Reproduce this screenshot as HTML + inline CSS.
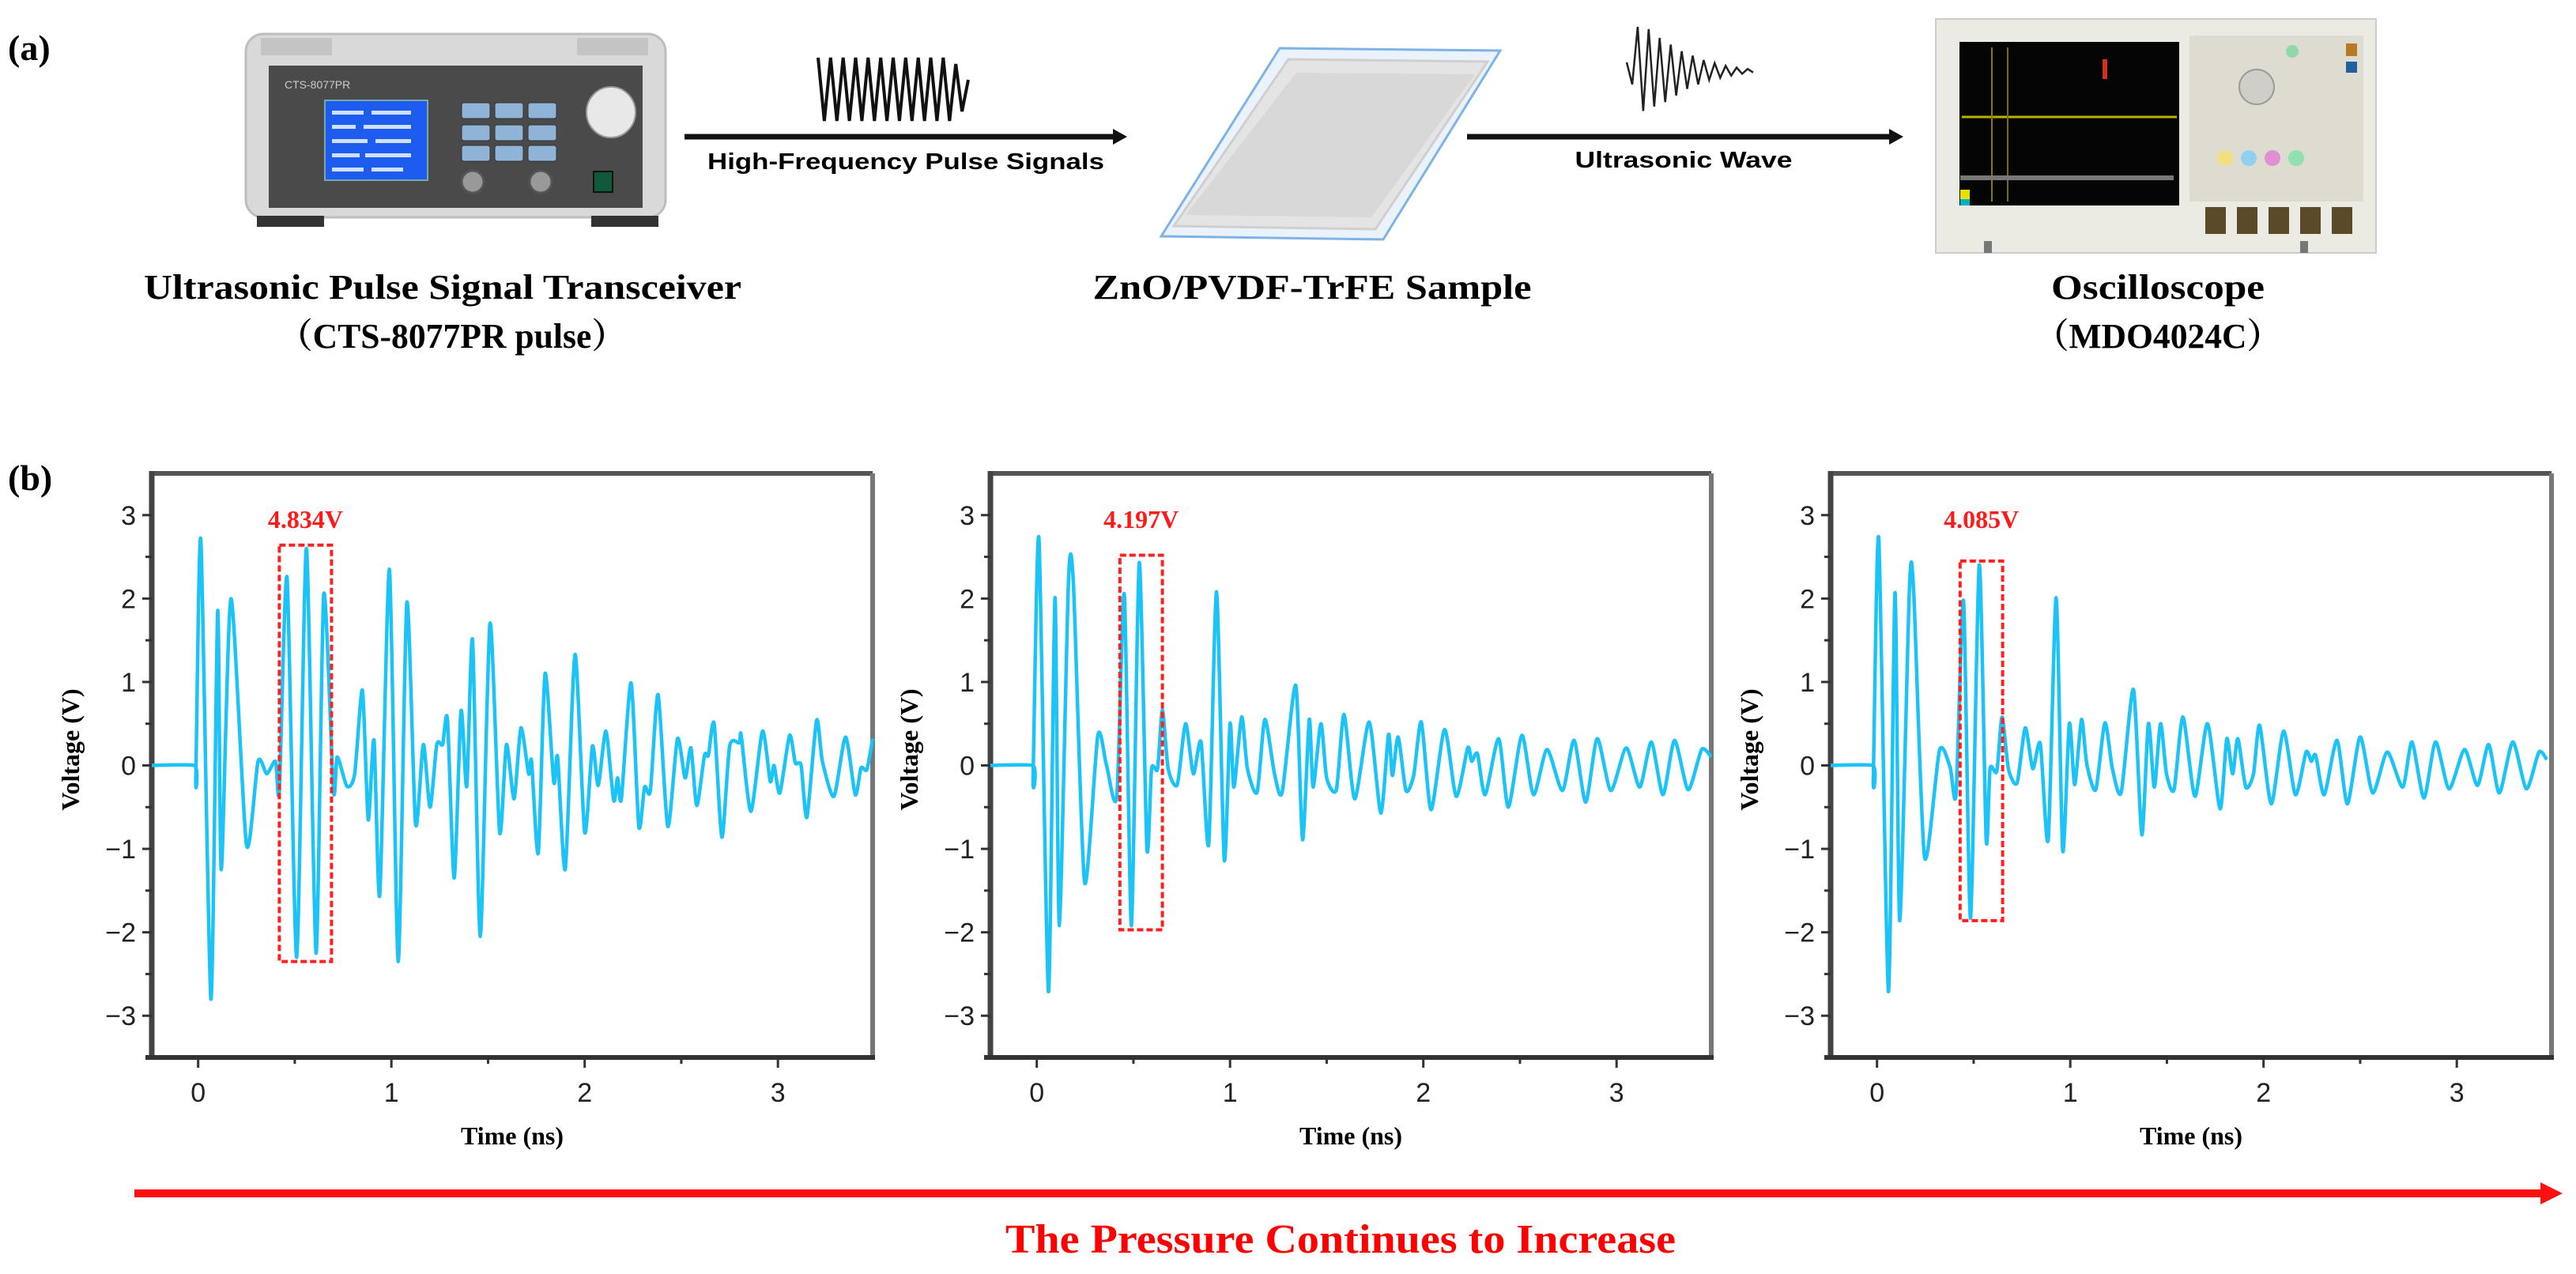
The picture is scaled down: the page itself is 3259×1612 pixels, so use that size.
<!DOCTYPE html>
<html><head><meta charset="utf-8">
<style>
html,body{margin:0;padding:0;background:#fff;}
svg{display:block;}
.serif{font-family:"Liberation Serif",serif;font-weight:bold;}
.sans{font-family:"Liberation Sans",sans-serif;}
</style></head>
<body>
<svg id="fig" width="3259" height="1612" viewBox="0 0 3259 1612" xmlns="http://www.w3.org/2000/svg">
  <text x="10" y="76" class="serif" font-size="46">(a)</text>

  <g>
    <rect x="311" y="43" width="531" height="232" rx="22" fill="#d9d9d9" stroke="#bdbdbd" stroke-width="3"/>
    <rect x="330" y="48" width="90" height="22" fill="#c4c4c4"/>
    <rect x="730" y="48" width="90" height="22" fill="#c4c4c4"/>
    <rect x="340" y="83" width="473" height="180" fill="#4a4a4a"/>
    <text x="360" y="112" font-size="14" fill="#ccc" class="sans">CTS-8077PR</text>
    <rect x="411" y="127" width="130" height="101" fill="#1e5cf0" stroke="#7aa" stroke-width="2"/>
    <g fill="#cfe0ff">
      <rect x="420" y="140" width="40" height="5"/><rect x="470" y="140" width="50" height="5"/>
      <rect x="420" y="158" width="30" height="5"/><rect x="460" y="158" width="60" height="5"/>
      <rect x="420" y="176" width="45" height="5"/><rect x="475" y="176" width="45" height="5"/>
      <rect x="420" y="194" width="35" height="5"/><rect x="462" y="194" width="58" height="5"/>
      <rect x="420" y="212" width="40" height="5"/><rect x="470" y="212" width="40" height="5"/>
    </g>
    <g fill="#8fb4d8" stroke="#333" stroke-width="1">
      <rect x="584" y="130" width="36" height="20" rx="3"/><rect x="626" y="130" width="36" height="20" rx="3"/><rect x="668" y="130" width="36" height="20" rx="3"/>
      <rect x="584" y="158" width="36" height="20" rx="3"/><rect x="626" y="158" width="36" height="20" rx="3"/><rect x="668" y="158" width="36" height="20" rx="3"/>
      <rect x="584" y="184" width="36" height="20" rx="3"/><rect x="626" y="184" width="36" height="20" rx="3"/><rect x="668" y="184" width="36" height="20" rx="3"/>
    </g>
    <ellipse cx="773" cy="142" rx="31" ry="32" fill="#e8e8e8" stroke="#999" stroke-width="2"/>
    <circle cx="598" cy="230" r="14" fill="#999" stroke="#555" stroke-width="3"/>
    <circle cx="684" cy="230" r="14" fill="#999" stroke="#555" stroke-width="3"/>
    <rect x="751" y="217" width="24" height="26" fill="#0e5a3a" stroke="#111" stroke-width="2"/>
    <rect x="325" y="273" width="85" height="14" fill="#333"/>
    <rect x="748" y="273" width="85" height="14" fill="#333"/>
  </g>

  <g>
    <line x1="866" y1="173" x2="1412" y2="173" stroke="#111" stroke-width="7"/>
    <polygon points="1426,173 1408,163 1408,183" fill="#111"/>
  </g>
  <text x="1146" y="214" text-anchor="middle" class="sans" font-weight="bold" font-size="29" textLength="502" lengthAdjust="spacingAndGlyphs">High-Frequency Pulse Signals</text>
  <polyline id="burst1" fill="none" stroke="#111" stroke-width="4"/>

  <g>
    <polygon points="1619,61 1898,64 1750,303 1469,299" fill="#eaf2fb" stroke="#7fb2e6" stroke-width="3"/>
    <polygon points="1630,75 1882,78 1740,290 1485,286" fill="#e4e4e4" stroke="#cfcfcf" stroke-width="3"/>
    <polygon points="1640,92 1866,94 1735,275 1500,272" fill="#d8d8d8"/>
  </g>

  <g>
    <line x1="1856" y1="173" x2="2394" y2="173" stroke="#111" stroke-width="7"/>
    <polygon points="2408,173 2390,163 2390,183" fill="#111"/>
  </g>
  <text x="2130" y="212" text-anchor="middle" class="sans" font-weight="bold" font-size="29" textLength="275" lengthAdjust="spacingAndGlyphs">Ultrasonic Wave</text>
  <polyline id="burst2" fill="none" stroke="#222" stroke-width="2.5"/>

  <g>
    <rect x="2449" y="24" width="557" height="296" fill="#ecebe3" stroke="#ccc" stroke-width="2"/>
    <rect x="2479" y="53" width="278" height="207" fill="#050505"/>
    <line x1="2482" y1="148" x2="2754" y2="148" stroke="#b8b400" stroke-width="3"/>
    <line x1="2520" y1="60" x2="2520" y2="255" stroke="#8a7a00" stroke-width="2"/>
    <line x1="2540" y1="60" x2="2540" y2="255" stroke="#7a6a00" stroke-width="2"/>
    <rect x="2660" y="75" width="6" height="25" fill="#d03020"/>
    <rect x="2480" y="222" width="270" height="6" fill="#777"/>
    <rect x="2480" y="240" width="12" height="12" fill="#e8e000"/>
    <rect x="2480" y="252" width="12" height="8" fill="#00b0c0"/>
    <rect x="2770" y="45" width="220" height="210" fill="#dedbd0"/>
    <circle cx="2855" cy="110" r="22" fill="#cfcfc7" stroke="#999" stroke-width="2"/>
    <circle cx="2900" cy="65" r="8" fill="#8fd8a8"/>
    <rect x="2968" y="55" width="14" height="16" fill="#b87a20"/>
    <rect x="2968" y="78" width="14" height="14" fill="#2060a0"/>
    <circle cx="2815" cy="200" r="10" fill="#f0e080"/>
    <circle cx="2845" cy="200" r="10" fill="#90d0f0"/>
    <circle cx="2875" cy="200" r="10" fill="#e090d0"/>
    <circle cx="2905" cy="200" r="10" fill="#90e0b0"/>
    <g fill="#5a4a2a">
      <rect x="2790" y="262" width="26" height="34"/><rect x="2830" y="262" width="26" height="34"/>
      <rect x="2870" y="262" width="26" height="34"/><rect x="2910" y="262" width="26" height="34"/>
      <rect x="2950" y="262" width="26" height="34"/>
    </g>
    <rect x="2510" y="305" width="10" height="15" fill="#777"/>
    <rect x="2910" y="305" width="10" height="15" fill="#777"/>
  </g>

  <text x="560" y="378" text-anchor="middle" class="serif" font-size="44" textLength="756" lengthAdjust="spacingAndGlyphs">Ultrasonic Pulse Signal Transceiver</text>
  <text x="572" y="440" text-anchor="middle" font-family="'Liberation Serif','Noto Serif CJK SC',serif" font-weight="bold" font-size="44" textLength="440" lengthAdjust="spacingAndGlyphs">（CTS-8077PR pulse）</text>
  <text x="1660" y="378" text-anchor="middle" class="serif" font-size="44" textLength="555" lengthAdjust="spacingAndGlyphs">ZnO/PVDF-TrFE Sample</text>
  <text x="2730" y="378" text-anchor="middle" class="serif" font-size="44" textLength="270" lengthAdjust="spacingAndGlyphs">Oscilloscope</text>
  <text x="2730" y="440" text-anchor="middle" font-family="'Liberation Serif','Noto Serif CJK SC',serif" font-weight="bold" font-size="44" textLength="312" lengthAdjust="spacingAndGlyphs">（MDO4024C）</text>

  <text x="10" y="620" class="serif" font-size="46">(b)</text>
  <g id="charts"></g>

  <g>
    <line x1="170" y1="1510" x2="3218" y2="1510" stroke="#ff1010" stroke-width="10"/>
    <polygon points="3242,1510 3214,1496 3214,1524" fill="#ff1010"/>
  </g>
  <text x="1696" y="1585" text-anchor="middle" class="serif" font-size="52" fill="#ff0000" textLength="848" lengthAdjust="spacingAndGlyphs">The Pressure Continues to Increase</text>
</svg>

<script>
const xTicks = [0, 1, 2, 3];
const xTickLabels = ["0", "1", "2", "3"];
const yTicks = [-3, -2, -1, 0, 1, 2, 3];
const yTickLabels = ["\u22123", "\u22122", "\u22121", "0", "1", "2", "3"];
const peakLabels = ["4.834V", "4.197V", "4.085V"];
const boxX0 = [0.42, 0.43, 0.43];
const boxX1 = [0.69, 0.65, 0.65];
const boxYTop = [2.64, 2.52, 2.45];
const boxYBot = [-2.35, -1.97, -1.86];

const t1 = [-0.24,-0.02,-0.012,0.014,0.066,0.101,0.12,0.17,0.25,0.31,0.355,0.40,0.42,0.46,0.51,0.56,0.61,0.65,0.70,0.72,0.77,0.81,0.85,0.88,0.91,0.94,0.99,1.035,1.08,1.125,1.165,1.20,1.235,1.265,1.29,1.325,1.36,1.39,1.42,1.46,1.51,1.56,1.595,1.635,1.67,1.71,1.725,1.76,1.795,1.84,1.86,1.90,1.95,2.00,2.04,2.07,2.11,2.15,2.17,2.19,2.24,2.28,2.31,2.34,2.38,2.43,2.48,2.52,2.55,2.58,2.62,2.64,2.67,2.71,2.75,2.80,2.81,2.86,2.92,2.96,2.98,3.01,3.06,3.09,3.12,3.15,3.20,3.23,3.29,3.35,3.40,3.43,3.46,3.49];
const v1 = [0,0,-0.15,2.7,-2.8,1.85,-1.25,2.0,-0.95,0.05,-0.1,0.05,-0.3,2.25,-2.3,2.6,-2.25,2.05,-0.3,0.1,-0.25,-0.1,0.9,-0.65,0.3,-1.55,2.35,-2.35,1.95,-0.7,0.25,-0.5,0.25,0.25,0.55,-1.35,0.65,-0.25,1.5,-2.05,1.7,-0.8,0.25,-0.4,0.45,-0.1,0.05,-1.05,1.1,-0.2,0.1,-1.24,1.33,-0.8,0.23,-0.24,0.41,-0.42,-0.15,-0.4,0.99,-0.73,-0.26,-0.3,0.85,-0.73,0.32,-0.15,0.21,-0.48,0.12,0.12,0.5,-0.86,0.23,0.27,0.36,-0.55,0.41,-0.19,0.0,-0.33,0.36,0.03,0.0,-0.62,0.54,0.05,-0.37,0.34,-0.35,-0.03,-0.05,0.32];

const t2 = [-0.24,-0.02,-0.019,0.011,0.06,0.094,0.117,0.164,0.19,0.247,0.316,0.36,0.414,0.453,0.49,0.53,0.57,0.594,0.625,0.65,0.68,0.727,0.77,0.81,0.85,0.89,0.93,0.97,1.0,1.02,1.06,1.09,1.14,1.18,1.23,1.27,1.34,1.375,1.41,1.43,1.47,1.50,1.55,1.59,1.645,1.72,1.78,1.82,1.84,1.87,1.91,1.95,1.99,2.04,2.11,2.17,2.23,2.25,2.28,2.32,2.39,2.44,2.51,2.57,2.64,2.72,2.78,2.84,2.90,2.97,3.05,3.12,3.18,3.24,3.30,3.37,3.44,3.49];
const v2 = [0,0,-0.15,2.72,-2.71,2.01,-1.92,2.21,2.16,-1.40,0.36,0.01,-0.37,2.05,-1.92,2.43,-0.99,-0.04,-0.04,0.66,-0.04,-0.23,0.5,-0.1,0.28,-0.94,2.08,-1.13,0.5,-0.26,0.58,-0.04,-0.32,0.55,-0.1,-0.32,0.96,-0.89,0.55,-0.26,0.5,-0.15,-0.29,0.61,-0.4,0.52,-0.57,0.37,-0.12,0.34,-0.30,-0.12,0.52,-0.53,0.43,-0.37,0.21,0.05,0.14,-0.35,0.32,-0.50,0.36,-0.35,0.19,-0.30,0.30,-0.44,0.32,-0.30,0.21,-0.26,0.28,-0.35,0.30,-0.29,0.19,0.10];

const t3 = [-0.24,-0.022,-0.019,0.009,0.059,0.093,0.118,0.168,0.19,0.246,0.323,0.378,0.409,0.448,0.484,0.529,0.565,0.585,0.62,0.647,0.68,0.725,0.767,0.806,0.845,0.886,0.927,0.961,0.995,1.023,1.058,1.086,1.132,1.179,1.218,1.264,1.327,1.37,1.404,1.435,1.467,1.498,1.537,1.583,1.645,1.71,1.775,1.81,1.84,1.867,1.908,1.948,1.98,2.04,2.104,2.165,2.22,2.247,2.27,2.314,2.38,2.434,2.50,2.565,2.64,2.72,2.768,2.83,2.89,2.96,3.04,3.107,3.165,3.22,3.29,3.36,3.425,3.466];
const v3 = [0,0,-0.15,2.72,-2.71,2.07,-1.86,2.14,2.08,-1.10,0.18,-0.02,-0.34,1.97,-1.83,2.40,-0.89,-0.04,-0.07,0.58,-0.04,-0.21,0.45,-0.04,0.26,-0.89,2.01,-1.02,0.5,-0.23,0.55,0.01,-0.29,0.51,-0.04,-0.32,0.91,-0.83,0.5,-0.26,0.5,-0.1,-0.29,0.58,-0.37,0.50,-0.52,0.32,-0.10,0.32,-0.26,-0.10,0.48,-0.46,0.41,-0.35,0.16,0.05,0.12,-0.35,0.30,-0.46,0.34,-0.33,0.16,-0.26,0.28,-0.39,0.28,-0.28,0.19,-0.24,0.25,-0.33,0.28,-0.28,0.16,0.07];

const seriesT = [t1, t2, t3];
const seriesV = [v1, v2, v3];

const burst1Amp = [1,-1,1,-1,1,-1,1,-1,1,-1,1,-1,1,-1,1,-1,1,-1,1,-1,1,-1,0.8,-0.7,0.3];
const burst2Amp = [0.2,-0.3,1,-0.9,0.95,-0.8,0.75,-0.7,0.6,-0.55,0.45,-0.4,0.35,-0.3,0.25,-0.2,0.18,-0.15,0.12,-0.1,0.08,-0.06,0.05,-0.03];

const NS = "http://www.w3.org/2000/svg";
const plotLefts = [192, 1253, 2316];
const plotW = 912, plotTop = 599, plotBot = 1338;
const xMin = -0.24, xMax = 3.49, yMin = -3.5, yMax = 3.5;

function mk(tag, attrs, parent) {
  const el = document.createElementNS(NS, tag);
  for (const k in attrs) el.setAttribute(k, attrs[k]);
  parent.appendChild(el);
  return el;
}

function smoothPath(P) {
  let d = "M" + P[0][0].toFixed(1) + "," + P[0][1].toFixed(1);
  for (let i = 0; i < P.length - 1; i++) {
    const p0 = P[Math.max(0, i - 1)], p1 = P[i], p2 = P[i + 1], p3 = P[Math.min(P.length - 1, i + 2)];
    const k = 0.12;
    const c1 = [p1[0] + (p2[0] - p0[0]) * k, p1[1] + (p2[1] - p0[1]) * k];
    const c2 = [p2[0] - (p3[0] - p1[0]) * k, p2[1] - (p3[1] - p1[1]) * k];
    d += " C" + c1[0].toFixed(1) + "," + c1[1].toFixed(1) + " " + c2[0].toFixed(1) + "," + c2[1].toFixed(1) + " " + p2[0].toFixed(1) + "," + p2[1].toFixed(1);
  }
  return d;
}

const chartsG = document.getElementById("charts");
for (let c = 0; c < 3; c++) {
  const L = plotLefts[c];
  const sx = v => L + (v - xMin) / (xMax - xMin) * plotW;
  const sy = v => plotTop + (yMax - v) / (yMax - yMin) * (plotBot - plotTop);
  const g = mk("g", {}, chartsG);
  
  

  const top = mk("line", {x1: L, y1: plotTop, x2: L + plotW, y2: plotTop, stroke: "#555", "stroke-width": 6}, g);
  
  
  const right = mk("line", {x1: L + plotW, y1: plotTop, x2: L + plotW, y2: plotBot, stroke: "#777", "stroke-width": 6}, g);
  
  
  const yAxis = mk("line", {x1: L, y1: plotTop - 3, x2: L, y2: plotBot + 3, stroke: "#444", "stroke-width": 7}, g);
  
  
  const xAxis = mk("line", {x1: L - 8, y1: plotBot, x2: L + plotW + 3, y2: plotBot, stroke: "#333", "stroke-width": 6}, g);
  
  

  for (let i = 0; i < yTicks.length; i++) {
    const y = sy(yTicks[i]);
    const tk = mk("line", {x1: L - 12, y1: y, x2: L, y2: y, stroke: "#333", "stroke-width": 3}, g);
    
    
    const lb = mk("text", {x: L - 20, y: y + 12, "text-anchor": "end", "font-size": 34, "font-family": "Liberation Sans, sans-serif", fill: "#222"}, g);
    lb.textContent = yTickLabels[i];
    
    
    if (i < yTicks.length - 1) {
      const ym = sy(yTicks[i] + 0.5);
      const mt = mk("line", {x1: L - 8, y1: ym, x2: L, y2: ym, stroke: "#333", "stroke-width": 3}, g);
      
      
    }
  }
  for (let i = 0; i < xTicks.length; i++) {
    const x = sx(xTicks[i]);
    const tk = mk("line", {x1: x, y1: plotBot, x2: x, y2: plotBot + 13, stroke: "#333", "stroke-width": 3}, g);
    
    
    const lb = mk("text", {x: x, y: plotBot + 56, "text-anchor": "middle", "font-size": 34, "font-family": "Liberation Sans, sans-serif", fill: "#222"}, g);
    lb.textContent = xTickLabels[i];
    
    
    const xm = sx(xTicks[i] + 0.5);
    if (xTicks[i] + 0.5 < xMax) {
      const mt = mk("line", {x1: xm, y1: plotBot, x2: xm, y2: plotBot + 8, stroke: "#333", "stroke-width": 3}, g);
      
      
    }
  }
  const xt = mk("text", {x: L + plotW / 2, y: plotBot + 110, "text-anchor": "middle", "font-size": 32, "font-family": "Liberation Serif, serif", "font-weight": "bold"}, g);
  xt.textContent = "Time (ns)";
  
  
  const yc = (plotTop + plotBot) / 2 - 20, yxp = L - 92;
  const yt = mk("text", {x: yxp, y: yc, "text-anchor": "middle", "font-size": 32, "font-family": "Liberation Serif, serif", "font-weight": "bold", transform: "rotate(-90 " + yxp + " " + yc + ")"}, g);
  yt.textContent = "Voltage (V)";
  
  

  const T = seriesT[c], V = seriesV[c];
  const P = [];
  for (let i = 0; i < T.length; i++) P.push([sx(T[i]), sy(V[i])]);
  const pl = mk("path", {d: smoothPath(P), fill: "none", stroke: "#1cc3f7", "stroke-width": 4.5, "stroke-linejoin": "round"}, g);
  
  

  const bx0 = sx(boxX0[c]), bx1 = sx(boxX1[c]), by0 = sy(boxYTop[c]), by1 = sy(boxYBot[c]);
  const bx = mk("rect", {x: bx0, y: by0, width: bx1 - bx0, height: by1 - by0, fill: "none", stroke: "#ff2020", "stroke-width": 4, "stroke-dasharray": "8 4"}, g);
  
  
  const pk = mk("text", {x: (bx0 + bx1) / 2, y: sy(2.95) + 11, "text-anchor": "middle", "font-size": 32, "font-family": "Liberation Serif, serif", "font-weight": "bold", fill: "#ff1a1a"}, g);
  pk.textContent = peakLabels[c];
  
  
}

(function () {
  let p = [];
  const x0 = 1035, w = 190, cy = 113, h = 40;
  for (let i = 0; i < burst1Amp.length; i++) p.push((x0 + i * w / (burst1Amp.length - 1)).toFixed(1) + "," + (cy - burst1Amp[i] * h).toFixed(1));
  document.getElementById("burst1").setAttribute("points", p.join(" "));
  let q = [];
  const x1 = 2058, w2 = 160, cy2 = 90, h2 = 56;
  for (let i = 0; i < burst2Amp.length; i++) q.push((x1 + i * w2 / (burst2Amp.length - 1)).toFixed(1) + "," + (cy2 - burst2Amp[i] * h2).toFixed(1));
  document.getElementById("burst2").setAttribute("points", q.join(" "));
})();
</script>
</body></html>
